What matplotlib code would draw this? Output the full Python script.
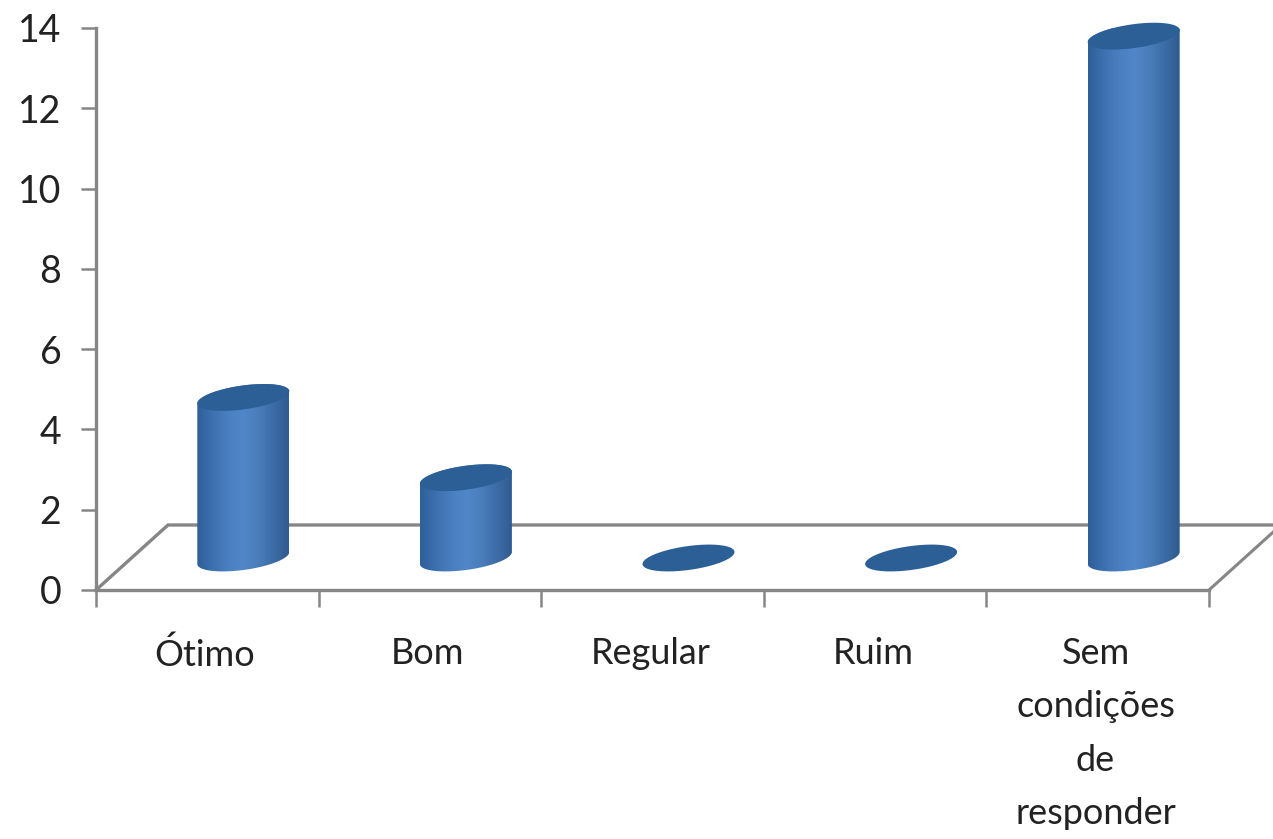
# column chart with excel style 3d cylinders
import numpy as np
import matplotlib.pyplot as plt
from matplotlib.colors import LinearSegmentedColormap
from matplotlib.patches import PathPatch
from matplotlib.path import Path

# data
categories = ['Ótimo', 'Bom', 'Regular', 'Ruim', 'Sem\ncondições\nde\nresponder']
values = [4, 2, 0, 0, 13]
y_ticks = [0, 2, 4, 6, 8, 10, 12, 14]

plt.rcParams['font.family'] = ['Lato', 'DejaVu Sans']

W, H = 1273, 839
fig = plt.figure(figsize=(W / 100, H / 100), dpi=100)
ax = fig.add_axes([96 / W, 1 - 590 / H, (1209 - 96) / W, (590 - 28) / H])
ax.set_xlim(-0.5, 4.5)
ax.set_ylim(0, 14)

# pixel sizes in data units
px_x = 5 / (1209 - 96)
px_y = 14 / (590 - 28)

grey = '#868686'

# floor of the 3d box
depth_x = 72 * px_x
depth_y = 65 * px_y
ax.plot([-0.5, -0.5 + depth_x, 4.5 + depth_x], [0, depth_y, depth_y],
        color=grey, lw=2.4, clip_on=False, zorder=1, solid_joinstyle='miter')
ax.plot([4.5, 4.5 + depth_x], [0, depth_y], color=grey, lw=2.2, clip_on=False, zorder=1)

# cylinder geometry
half_w = 46 * px_x
shear = 6 * px_y
half_h = 12 * px_y
shift_x = 36 * px_x
base_y = 32 * px_y

body_cmap = LinearSegmentedColormap.from_list(
    'body', ['#2f5f98', '#3c70ae', '#4a7fbf', '#5087c9', '#4a7dba', '#3d6ca6', '#2f5b90'])
grad = np.linspace(0, 1, 256).reshape(1, -1)
t = np.linspace(0, 2 * np.pi, 121)


def ellipse(cx, cy, tt):
    return cx + half_w * np.cos(tt), cy + half_h * np.sin(tt) + shear * np.cos(tt)


for i, val in enumerate(values):
    cx = i + shift_x
    top = base_y + val
    if val > 0:
        # body: lower half of the base ellipse, then straight up to the top
        bx, by = ellipse(cx, base_y, np.linspace(0, -np.pi, 60))
        tx, ty = ellipse(cx, top, np.linspace(np.pi, 0, 60))
        verts = np.column_stack([np.r_[bx, tx, bx[0]], np.r_[by, ty, by[0]]])
        clip = PathPatch(Path(verts), transform=ax.transData, fc='none', ec='none')
        ax.add_patch(clip)
        im = ax.imshow(grad, cmap=body_cmap, aspect='auto', zorder=3, interpolation='bilinear',
                       extent=[cx - half_w, cx + half_w, base_y - 1, top + 1])
        im.set_clip_path(clip)
    ex, ey = ellipse(cx, top, t)
    ax.fill(ex, ey, color='#2b5f96', lw=0, zorder=4, clip_on=False)

ax.set_xlim(-0.5, 4.5)
ax.set_ylim(0, 14)

# axes
for side in ['top', 'right']:
    ax.spines[side].set_visible(False)
for side in ['left', 'bottom']:
    ax.spines[side].set_color(grey)
    ax.spines[side].set_linewidth(2.4)
ax.spines['left'].set_zorder(1)
ax.spines['bottom'].set_zorder(1)

ax.set_yticks(y_ticks)
ax.tick_params(axis='y', length=11, width=1.8, color=grey, pad=14, labelsize=27, labelcolor='#222222')
ax.set_xticks(np.arange(-0.5, 5, 1))
ax.set_xticklabels([])
ax.tick_params(axis='x', which='major', length=12, width=1.8, color=grey)
ax.set_xticks(np.arange(5) - 0.01, minor=True)
ax.set_xticklabels(categories, minor=True)
ax.tick_params(axis='x', which='minor', length=0, pad=34, labelsize=26, labelcolor='#222222')
for lab in ax.get_xticklabels(minor=True):
    lab.set_linespacing(1.75)

fig.savefig('out.png', dpi=100)
